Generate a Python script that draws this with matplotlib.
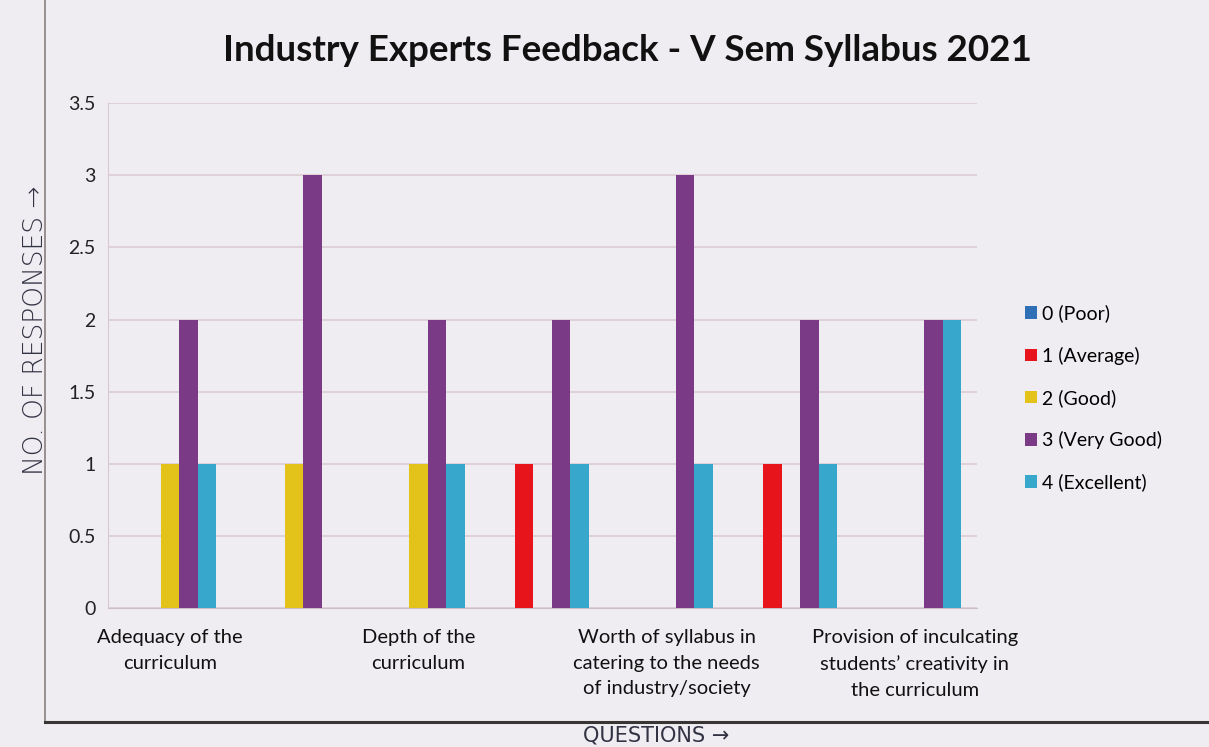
import numpy as np
import matplotlib
matplotlib.use('Agg')
from matplotlib import pyplot as plt
from matplotlib.lines import Line2D

# Chart data

categories = [
    'Adequacy of the\ncurriculum',
    '',
    'Depth of the\ncurriculum',
    '',
    'Worth of syllabus in\ncatering to the needs\nof industry/society',
    '',
    'Provision of inculcating\nstudents\u2019 creativity in\nthe curriculum',
]

series_names = ['0 (Poor)', '1 (Average)', '2 (Good)', '3 (Very Good)', '4 (Excellent)']

poor = [0, 0, 0, 0, 0, 0, 0]
average = [0, 0, 0, 1, 0, 1, 0]
good = [1, 1, 1, 0, 0, 0, 0]
very_good = [2, 3, 2, 2, 3, 2, 2]
excellent = [1, 0, 1, 1, 1, 1, 2]

y_ticks = [0, 0.5, 1, 1.5, 2, 2.5, 3, 3.5]
y_tick_labels = ['0', '0.5', '1', '1.5', '2', '2.5', '3', '3.5']

colors = ['#2f6fb5', '#e8141c', '#e3c21a', '#7a3a86', '#38a7cc']
bg_color = '#efedf2'

# Figure setup

plt.rcParams['font.family'] = ['Lato', 'DejaVu Sans']

fig = plt.figure(figsize=(12.09, 7.47), dpi=100, facecolor=bg_color)
ax = fig.add_axes([0.0893, 0.186, 0.7188, 0.676])
ax.set_facecolor(bg_color)

x = np.arange(len(categories))
bar_w = 0.149
all_series = [poor, average, good, very_good, excellent]

for idx, (vals, name, col) in enumerate(zip(all_series, series_names, colors)):
    ax.bar(x + (idx - 2) * bar_w, vals, width=bar_w, color=col, label=name,
           edgecolor='none', zorder=3)

ax.set_xlim(-0.5, len(categories) - 0.5)
ax.set_ylim(0, 3.5)

ax.set_yticks(y_ticks)
ax.set_yticklabels(y_tick_labels, fontsize=14, color='#222222')
ax.set_xticks(x)
ax.set_xticklabels(categories, fontsize=14.5, color='#111111', linespacing=1.62)
ax.tick_params(axis='both', length=0)
ax.tick_params(axis='y', pad=9)
ax.tick_params(axis='x', pad=15)

ax.grid(axis='y', color='#d9c9cf', linewidth=1.1, zorder=0)
for side in ['top', 'right']:
    ax.spines[side].set_visible(False)
ax.spines['left'].set_color('#d9c9cf')
ax.spines['bottom'].set_color('#cdbcc2')

# Title and hand-written axis captions

fig.text(0.519, 0.932, 'Industry Experts Feedback - V Sem Syllabus 2021',
         ha='center', va='center', fontsize=26.5, fontweight='bold', color='#111111')

fig.text(0.029, 0.558, 'NO. OF RESPONSES \u2192', rotation=90, ha='center', va='center',
         fontsize=19, color='#333344', family=['DejaVu Sans'], fontweight='light')
fig.text(0.543, 0.016, 'QUESTIONS \u2192', ha='center', va='center',
         fontsize=15, color='#333344', family=['DejaVu Sans'])

# Legend

leg = ax.legend(loc='center left', bbox_to_anchor=(1.035, 0.416), frameon=False,
                fontsize=14, handlelength=0.6, handleheight=0.6, handletextpad=0.3,
                labelspacing=1.25)

# Frame lines from the scanned page

fig.add_artist(Line2D([0.037, 0.037], [0.033, 1.0], transform=fig.transFigure,
                      color='#8a7f80', linewidth=1.2))
fig.add_artist(Line2D([0.037, 1.0], [0.033, 0.033], transform=fig.transFigure,
                      color='#3a3535', linewidth=2.2))

fig.savefig('out.png', dpi=100, facecolor=bg_color)
